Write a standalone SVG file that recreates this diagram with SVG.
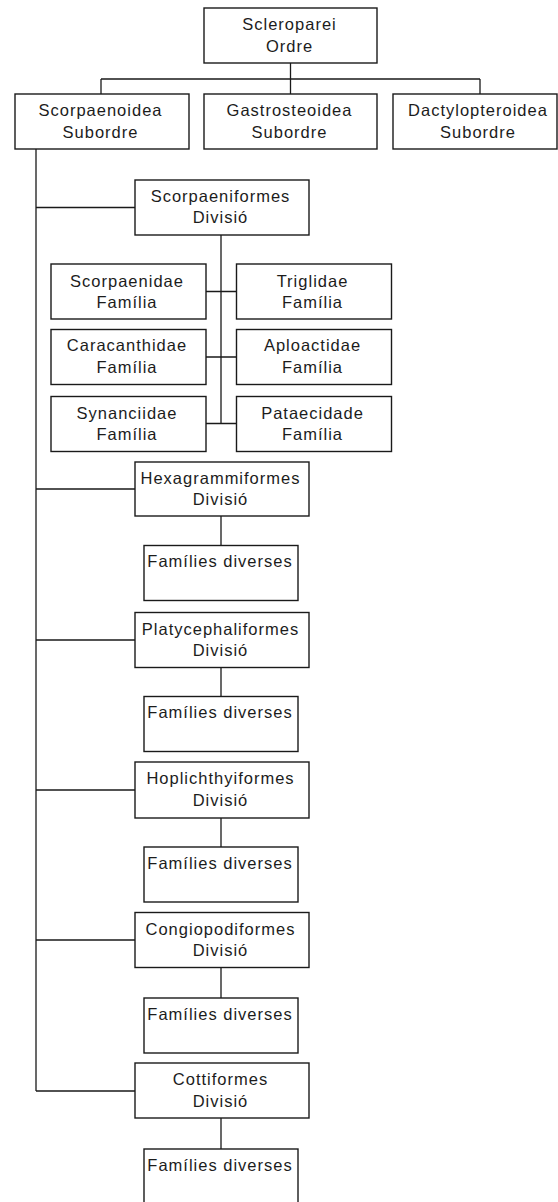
<svg xmlns="http://www.w3.org/2000/svg" width="558" height="1202" viewBox="0 0 558 1202">
<style>
.box{fill:#fff;stroke:#1a1a1a;stroke-width:1.4}
.ln{fill:none;stroke:#1a1a1a;stroke-width:1.3}
text{font-family:"Liberation Sans",Arial,sans-serif;font-size:16.5px;letter-spacing:1px;fill:#1c1c1c;text-anchor:middle}
</style>
<rect width="558" height="1202" fill="#fff"/>
<g id="connectors">
<path class="ln" d="M290.5 63V79M101 79H480M101 79V94M290.5 79V94M480 79V94"/>
<path class="ln" d="M36 149V1091M36 207.5H135M36 489H135M36 640H135M36 790H135M36 940H135M36 1091H135"/>
<path class="ln" d="M221 235V423.5M206 291.5H236.5M206 357H236.5M206 423.5H236.5"/>
<path class="ln" d="M221 516V545.5M221 667.5V696.5M221 818V847M221 967.5V998M221 1118V1149"/>
</g>
<g id="n-scleroparei"><rect class="box" x="204" y="8" width="173" height="55"/><text x="289.5" y="30">Scleroparei</text><text x="289.5" y="51.5">Ordre</text></g>
<g id="n-scorpaenoidea"><rect class="box" x="15" y="94" width="174" height="55"/><text x="100.5" y="116">Scorpaenoidea</text><text x="100.5" y="137.5">Subordre</text></g>
<g id="n-gastrosteoidea"><rect class="box" x="204" y="94" width="173" height="55"/><text x="289.5" y="116">Gastrosteoidea</text><text x="289.5" y="137.5">Subordre</text></g>
<g id="n-dactylopteroidea"><rect class="box" x="393" y="94" width="164" height="55"/><text x="478" y="116">Dactylopteroidea</text><text x="478" y="137.5">Subordre</text></g>
<g id="n-scorpaeniformes"><rect class="box" x="135" y="180" width="174" height="55"/><text x="220.5" y="202">Scorpaeniformes</text><text x="220.5" y="223">Divisió</text></g>
<g id="n-scorpaenidae"><rect class="box" x="51" y="264" width="155" height="55"/><text x="127" y="286.5">Scorpaenidae</text><text x="127" y="307.5">Família</text></g>
<g id="n-triglidae"><rect class="box" x="236.5" y="264" width="155" height="55"/><text x="312.5" y="286.5">Triglidae</text><text x="312.5" y="307.5">Família</text></g>
<g id="n-caracanthidae"><rect class="box" x="51" y="329.5" width="155" height="55"/><text x="127" y="351">Caracanthidae</text><text x="127" y="373">Família</text></g>
<g id="n-aploactidae"><rect class="box" x="236.5" y="329.5" width="155" height="55"/><text x="312.5" y="351">Aploactidae</text><text x="312.5" y="373">Família</text></g>
<g id="n-synanciidae"><rect class="box" x="51" y="396.5" width="155" height="55"/><text x="127" y="418.5">Synanciidae</text><text x="127" y="440">Família</text></g>
<g id="n-pataecidade"><rect class="box" x="236.5" y="396.5" width="155" height="55"/><text x="312.5" y="418.5">Pataecidade</text><text x="312.5" y="440">Família</text></g>
<g id="n-hexagrammiformes"><rect class="box" x="135" y="462" width="174" height="54"/><text x="220.5" y="484">Hexagrammiformes</text><text x="220.5" y="505">Divisió</text></g>
<g id="n-fd1"><rect class="box" x="144" y="545.5" width="154" height="55"/><text x="220" y="567">Famílies diverses</text></g>
<g id="n-platycephaliformes"><rect class="box" x="135" y="612.5" width="174" height="55"/><text x="220.5" y="634.5">Platycephaliformes</text><text x="220.5" y="655.5">Divisió</text></g>
<g id="n-fd2"><rect class="box" x="144" y="696.5" width="154" height="55"/><text x="220" y="718">Famílies diverses</text></g>
<g id="n-hoplichthyiformes"><rect class="box" x="135" y="762" width="174" height="56"/><text x="220.5" y="784">Hoplichthyiformes</text><text x="220.5" y="805.5">Divisió</text></g>
<g id="n-fd3"><rect class="box" x="144" y="847" width="154" height="55"/><text x="220" y="868.5">Famílies diverses</text></g>
<g id="n-congiopodiformes"><rect class="box" x="135" y="912.5" width="174" height="55"/><text x="220.5" y="934.5">Congiopodiformes</text><text x="220.5" y="955.5">Divisió</text></g>
<g id="n-fd4"><rect class="box" x="144" y="998" width="154" height="55"/><text x="220" y="1019.5">Famílies diverses</text></g>
<g id="n-cottiformes"><rect class="box" x="135" y="1063" width="174" height="55"/><text x="220.5" y="1085">Cottiformes</text><text x="220.5" y="1106.5">Divisió</text></g>
<g id="n-fd5"><rect class="box" x="144" y="1149" width="154" height="60"/><text x="220" y="1170.5">Famílies diverses</text></g>
</svg>
